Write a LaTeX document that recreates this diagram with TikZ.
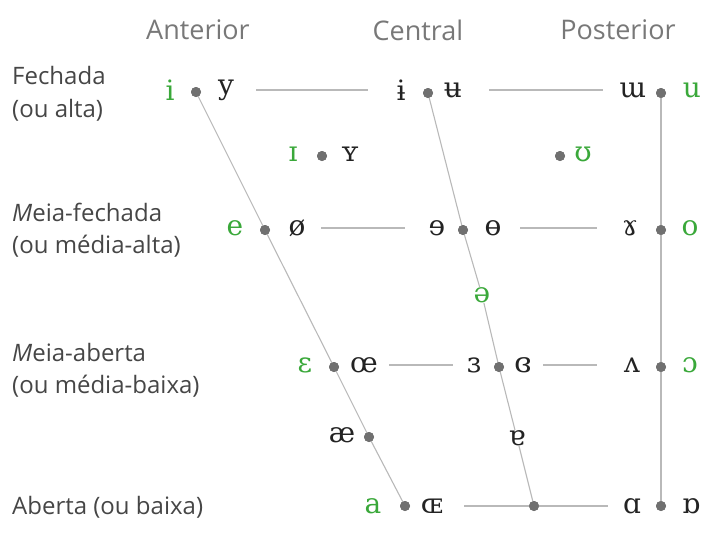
\documentclass[tikz,border=0pt]{standalone}
\usepackage{fontspec}
\newfontfamily\ipafont{DejaVu Serif}
\newfontfamily\labfont{Open Sans}
\definecolor{vgreen}{RGB}{58,168,58}
\definecolor{vdark}{RGB}{35,35,35}
\definecolor{dotgray}{RGB}{112,112,112}
\definecolor{linegray}{RGB}{185,185,185}
\definecolor{headgray}{RGB}{120,120,120}
\definecolor{labgray}{RGB}{70,70,70}
\begin{document}
\begin{tikzpicture}[x=1pt,y=-1pt,
  sym/.style={font=\ipafont\fontsize{28}{28}\selectfont, text=vdark, inner sep=0pt, minimum width=24pt},
  gsym/.style={sym, text=vgreen},
  vdot/.style={circle, fill=dotgray, inner sep=0pt, minimum size=10pt},
  conn/.style={draw=linegray, line width=1.1pt},
  hconn/.style 2 args={conn, shorten <=#1pt, shorten >=#2pt},
  head/.style={font=\labfont\fontsize{27}{27}\selectfont, text=headgray},
  rowlab/.style={font=\labfont\fontsize{24}{24}\selectfont, text=labgray, anchor=west, inner sep=0pt}]
\useasboundingbox (0,0) rectangle (705,533);
% headers
\node[head] (hA) at (198,30) {Anterior};
\node[head] (hC) at (418,30) {Central};
\node[head] (hP) at (618,30) {Posterior};
% row labels
\node[rowlab] (l1a) at (12,75) {Fechada};
\node[rowlab] (l1b) at (12,110) {(ou alta)};
\node[rowlab] (l2a) at (12,212) {\textit{M}eia-fechada};
\node[rowlab] (l2b) at (12,246) {(ou média-alta)};
\node[rowlab] (l3a) at (12,352) {\textit{M}eia-aberta};
\node[rowlab] (l3b) at (12,386) {(ou média-baixa)};
\node[rowlab] (l4) at (12,507) {Aberta (ou baixa)};
% dots
\node[vdot] (d1f) at (196,92) {};
\node[vdot] (d1c) at (428,93) {};
\node[vdot] (d1b) at (661,93) {};
\node[vdot] (d2f) at (322,156) {};
\node[vdot] (d2b) at (560,156) {};
\node[vdot] (d3f) at (265,230) {};
\node[vdot] (d3c) at (463,230) {};
\node[vdot] (d3b) at (661,230) {};
\node[vdot] (d5f) at (334,367) {};
\node[vdot] (d5c) at (499,367) {};
\node[vdot] (d5b) at (661,367) {};
\node[vdot] (d6f) at (369,437) {};
\node[vdot] (d7f) at (405,506) {};
\node[vdot] (d7c) at (534,506) {};
\node[vdot] (d7b) at (661,506) {};
% symbols
\node[gsym] (s-i) at (170,90) {i};
\node[sym] (s-y) at (226,90) {y};
\node[sym] (s-ib) at (401,90) {ɨ};
\node[sym] (s-ub) at (453,90) {ʉ};
\node[sym] (s-um) at (633,90) {ɯ};
\node[gsym] (s-u) at (692,90) {u};
\node[gsym] (s-I) at (293,154) {ɪ};
\node[sym] (s-Y) at (350,154) {ʏ};
\node[gsym] (s-U) at (583,154) {ʊ};
\node[gsym] (s-e) at (235,228) {e};
\node[sym] (s-oe) at (297,228) {ø};
\node[sym] (s-er) at (437,228) {ɘ};
\node[sym] (s-ob) at (493,228) {ɵ};
\node[sym] (s-ram) at (630,228) {ɤ};
\node[gsym] (s-o) at (690,228) {o};
\node[gsym] (s-schwa) at (482,295) {ə};
\node[gsym] (s-E) at (305,365) {ɛ};
\node[sym] (s-OE) at (364,365) {œ};
\node[sym] (s-3) at (474,365) {ɜ};
\node[sym] (s-3c) at (523,365) {ɞ};
\node[sym] (s-V) at (632,365) {ʌ};
\node[gsym] (s-O) at (690,365) {ɔ};
\node[sym] (s-ae) at (342,435) {æ};
\node[sym] (s-6) at (517,438) {ɐ};
\node[gsym] (s-a) at (373,506) {a};
\node[sym] (s-OEs) at (432,506) {ɶ};
\node[sym] (s-A) at (632,506) {ɑ};
\node[sym] (s-Ab) at (691,506) {ɒ};
% slanted / vertical lines
\draw[conn] (d1f.center) -- (d3f.center) -- (d5f.center) -- (d6f.center) -- (d7f.center);
\draw[conn] (d1c.center) -- (d3c.center) -- (s-schwa);
\draw[conn] (s-schwa) -- (d5c.center) -- (s-6);
\draw[conn] (s-6) -- (d7c.center);
\draw[conn] (d1b.center) -- (d7b.center);
% horizontal lines
\draw[hconn={18}{21}] (s-y) -- (s-ib);
\draw[hconn={24}{17}] (s-ub) -- (s-um);
\draw[hconn={12}{20}] (s-oe) -- (s-er);
\draw[hconn={15}{21}] (s-ob) -- (s-ram);
\draw[hconn={11}{9}] (s-OE) -- (s-3);
\draw[hconn={8}{23}] (s-3c) -- (s-V);
\draw[hconn={20}{12}] (s-OEs) -- (s-A);
% redraw dots over lines
\foreach \d in {d1f,d1c,d1b,d2f,d2b,d3f,d3c,d3b,d5f,d5c,d5b,d6f,d7f,d7c,d7b}
  \fill[dotgray] (\d) circle (5pt);
\end{tikzpicture}
\end{document}
